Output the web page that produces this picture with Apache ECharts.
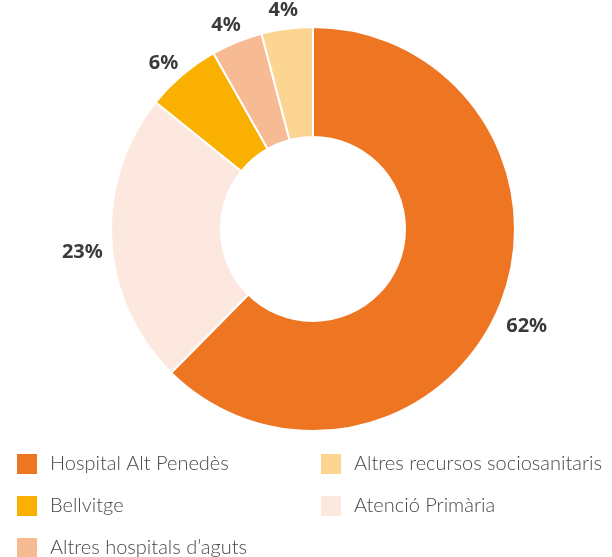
<!DOCTYPE html>
<html>
<head>
    <meta charset="utf-8">
    <title>Donut</title>
    <script src="https://cdn.jsdelivr.net/npm/echarts@6/dist/echarts.min.js"></script>
</head>
<body style="margin:0;background:#fff;">
<div id="main" style="width: 612px;height:557px;"></div>
<script type="text/javascript">
    // dades (ordre horari des de dalt)
    var categories = ['Hospital Alt Penedès', 'Atenció Primària', 'Bellvitge', 'Altres hospitals d\u2019aguts', 'Altres recursos sociosanitaris'];
    var values = [62.4, 23.4, 6.0, 4.1, 4.1];
    var colors = ['#EE7623', '#FCE8DE', '#F9B000', '#F7BB94', '#FDD592'];

    // llegenda en dues columnes
    var legendLeft = ['Hospital Alt Penedès', 'Bellvitge', 'Altres hospitals d\u2019aguts'];
    var legendRight = ['Altres recursos sociosanitaris', 'Atenció Primària'];

    var chart = echarts.init(document.getElementById('main'));

    var pieData = categories.map(function (name, i) {
        return { name: name, value: values[i], itemStyle: { color: colors[i] } };
    });
    var labelData = categories.map(function (name, i) {
        return { name: name, value: values[i] };
    });

    var legendStyle = {
        orient: 'vertical',
        top: 452,
        height: 110,
        padding: 0,
        itemWidth: 22,
        itemHeight: 22,
        itemGap: 18,
        icon: 'rect',
        textStyle: {
            fontFamily: 'Lato',
            fontWeight: 300,
            fontSize: 20,
            color: '#484848',
            padding: [0, 0, 0, 7]
        }
    };

    var option = {
        animation: false,
        legend: [
            Object.assign({ left: 15, data: legendLeft }, legendStyle),
            Object.assign({ left: 319, data: legendRight }, legendStyle)
        ],
        series: [{
            type: 'pie',
            center: [313, 229],
            radius: [92, 202],
            startAngle: 90,
            clockwise: true,
            data: pieData,
            itemStyle: { borderColor: '#fff', borderWidth: 2 },
            label: { show: false },
            labelLine: { show: false }
        }, {
            // anell transparent que només porta les etiquetes
            type: 'pie',
            center: [313, 229],
            radius: [208, 248],
            startAngle: 90,
            clockwise: true,
            silent: true,
            data: labelData,
            itemStyle: { color: 'transparent' },
            label: {
                position: 'inside',
                offset: [0, 10],
                formatter: function (p) { return Math.round(p.value) + '%'; },
                fontFamily: 'Noto Sans',
                fontWeight: 'bold',
                fontSize: 20,
                color: '#3a3a3a'
            },
            labelLine: { show: false }
        }]
    };

    chart.setOption(option);
</script>
</body>
</html>
